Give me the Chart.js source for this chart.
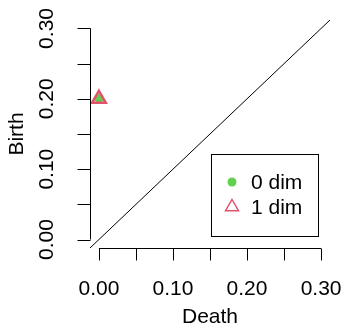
<!DOCTYPE html>
<html>
<head>
<meta charset="utf-8">
<script src="https://cdn.jsdelivr.net/npm/chart.js@4"></script>
<style>
  html, body { margin: 0; padding: 0; background: #fff; }
  #wrap { width: 344px; height: 330px; }
</style>
</head>
<body>
<div id="wrap"><canvas id="chart" width="344" height="330"></canvas></div>
<script>
// persistence diagram data
const dim0Death = [0];
const dim0Birth = [0.2];
const dim1Death = [0];
const dim1Birth = [0.2];

const axisMin = -0.012;
const axisMax = 0.312;
const tickVals = [0, 0.05, 0.10, 0.15, 0.20, 0.25, 0.30];
const tickLabels = ['0.00', '', '0.10', '', '0.20', '', '0.30'];
const legendLabels = ['0 dim', '1 dim'];

const GREEN = '#61D04F';
const RED = '#DF536B';
const FONT = '21px "Liberation Sans", Arial, sans-serif';

function pts(xs, ys) {
    return xs.map((x, i) => ({ x: x, y: ys[i] }));
}

// R-style axes, titles and legend
const rAxes = {
    id: 'rAxes',
    afterDraw(chart) {
        const ctx = chart.ctx;
        const xs = chart.scales.x, ys = chart.scales.y;
        const area = chart.chartArea;
        ctx.save();
        ctx.strokeStyle = '#000';
        ctx.fillStyle = '#000';
        ctx.lineWidth = 1;
        ctx.font = FONT;

        // x axis
        const yb = Math.round(area.bottom) + 0.5;
        ctx.beginPath();
        ctx.moveTo(xs.getPixelForValue(tickVals[0]), yb);
        ctx.lineTo(xs.getPixelForValue(tickVals[tickVals.length - 1]), yb);
        tickVals.forEach(v => {
            const px = Math.round(xs.getPixelForValue(v)) + 0.5;
            ctx.moveTo(px, yb);
            ctx.lineTo(px, yb + 12);
        });
        ctx.stroke();
        ctx.textAlign = 'center';
        ctx.textBaseline = 'middle';
        tickVals.forEach((v, i) => {
            if (tickLabels[i]) ctx.fillText(tickLabels[i], xs.getPixelForValue(v), 289);
        });
        ctx.fillText('Death', (area.left + area.right) / 2, 317);

        // y axis
        const xl = Math.round(area.left) + 0.5;
        ctx.beginPath();
        ctx.moveTo(xl, ys.getPixelForValue(tickVals[0]));
        ctx.lineTo(xl, ys.getPixelForValue(tickVals[tickVals.length - 1]));
        tickVals.forEach(v => {
            const py = Math.round(ys.getPixelForValue(v)) + 0.5;
            ctx.moveTo(xl, py);
            ctx.lineTo(xl - 13, py);
        });
        ctx.stroke();
        tickVals.forEach((v, i) => {
            if (!tickLabels[i]) return;
            ctx.save();
            ctx.translate(47, ys.getPixelForValue(v));
            ctx.rotate(-Math.PI / 2);
            ctx.fillText(tickLabels[i], 0, 0);
            ctx.restore();
        });
        ctx.save();
        ctx.translate(17, (area.top + area.bottom) / 2);
        ctx.rotate(-Math.PI / 2);
        ctx.fillText('Birth', 0, 0);
        ctx.restore();

        // legend box (bottom right)
        const bx = 211.5, by = 154.5, bw = 107, bh = 82;
        ctx.fillStyle = '#fff';
        ctx.fillRect(bx, by, bw, bh);
        ctx.strokeRect(bx, by, bw, bh);
        ctx.textAlign = 'left';
        ctx.fillStyle = '#000';
        const rows = [182, 207];
        legendLabels.forEach((t, i) => ctx.fillText(t, 251, rows[i] + 1));
        // symbols
        ctx.fillStyle = GREEN;
        ctx.beginPath();
        ctx.arc(232, rows[0], 4.5, 0, Math.PI * 2);
        ctx.fill();
        ctx.strokeStyle = RED;
        ctx.lineWidth = 1.5;
        const r = 7.5, cy = rows[1];
        ctx.beginPath();
        ctx.moveTo(232, cy - r);
        ctx.lineTo(232 + r * 0.866, cy + r * 0.5);
        ctx.lineTo(232 - r * 0.866, cy + r * 0.5);
        ctx.closePath();
        ctx.stroke();
        ctx.restore();
    }
};

new Chart(document.getElementById('chart'), {
    type: 'scatter',
    data: {
        datasets: [
            {
                label: '1 dim',
                data: pts(dim1Death, dim1Birth),
                pointStyle: 'triangle',
                pointRadius: 8,
                borderWidth: 2.5,
                borderColor: RED,
                backgroundColor: 'rgba(0,0,0,0)',
                order: 0
            },
            {
                label: '0 dim',
                data: pts(dim0Death, dim0Birth),
                pointStyle: 'circle',
                pointRadius: 4.5,
                borderWidth: 0,
                backgroundColor: GREEN,
                order: 1
            },
            {
                label: 'diagonal',
                type: 'line',
                data: [{ x: axisMin, y: axisMin }, { x: axisMax, y: axisMax }],
                borderColor: '#000',
                borderWidth: 1,
                pointRadius: 0,
                fill: false,
                order: 2
            }
        ]
    },
    options: {
        responsive: false,
        animation: false,
        devicePixelRatio: 1,
        layout: { padding: { left: 90, right: 14, top: 20, bottom: 82 } },
        plugins: { legend: { display: false }, tooltip: { enabled: false } },
        scales: {
            x: { type: 'linear', min: axisMin, max: axisMax, display: false },
            y: { type: 'linear', min: axisMin, max: axisMax, display: false }
        }
    },
    plugins: [rAxes]
});
</script>
</body>
</html>
